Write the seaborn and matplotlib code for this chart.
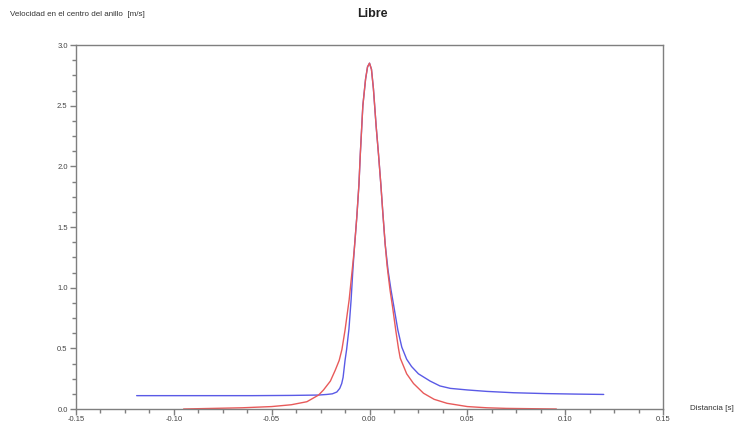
import matplotlib
matplotlib.use("Agg")
import matplotlib.pyplot as plt
from matplotlib.ticker import MultipleLocator, FormatStrFormatter
import seaborn as sns
import pandas as pd

# ---- data ----
red_x = [-0.095, -0.08, -0.065, -0.05, -0.04, -0.032, -0.026, -0.0235, -0.02, -0.0175,
         -0.0155, -0.0141, -0.0125, -0.0104, -0.009, -0.0078, -0.0065, -0.0054, -0.0047,
         -0.0034, -0.002, -0.001, 0.0, 0.001, 0.002, 0.0034, 0.0046, 0.0058, 0.0068, 0.008,
         0.009, 0.0105, 0.0118, 0.0135, 0.0148, 0.0157, 0.019, 0.0225, 0.0276, 0.033,
         0.0396, 0.05, 0.06, 0.07, 0.08, 0.0955]
red_v = [0.0, 0.005, 0.01, 0.02, 0.035, 0.06, 0.115, 0.157, 0.23, 0.32,
         0.40, 0.49, 0.65, 0.90, 1.12, 1.31, 1.58, 1.85, 2.10,
         2.50, 2.72, 2.82, 2.85, 2.80, 2.64, 2.33, 2.10, 1.85, 1.62, 1.36,
         1.18, 0.98, 0.84, 0.64, 0.50, 0.42, 0.29, 0.21, 0.13, 0.08,
         0.047, 0.02, 0.01, 0.005, 0.003, 0.0]

blue_x = [-0.119, -0.10, -0.08, -0.06, -0.04, -0.026, -0.0218, -0.019, -0.0167, -0.0152,
          -0.0142, -0.0135, -0.0125, -0.0117, -0.0105, -0.0094, -0.0086, -0.0078, -0.0065,
          -0.0054, -0.0047, -0.0034, -0.002, -0.001, 0.0, 0.001, 0.002, 0.0034, 0.0046,
          0.0058, 0.0068, 0.008, 0.0095, 0.011, 0.0125, 0.0145, 0.0165, 0.019, 0.0215,
          0.025, 0.031, 0.036, 0.0413, 0.05, 0.06, 0.0737, 0.09, 0.105, 0.1197]
blue_v = [0.11, 0.11, 0.11, 0.11, 0.112, 0.115, 0.12, 0.125, 0.14, 0.17,
          0.21, 0.26, 0.40, 0.49, 0.66, 0.90, 1.12, 1.31, 1.58,
          1.85, 2.10, 2.50, 2.72, 2.82, 2.85, 2.80, 2.64, 2.33, 2.10,
          1.85, 1.62, 1.36, 1.14, 0.98, 0.84, 0.65, 0.51, 0.41, 0.35,
          0.29, 0.23, 0.19, 0.17, 0.157, 0.145, 0.134, 0.127, 0.123, 0.12]

title = "Libre"
ylabel = "Velocidad en el centro del anillo  [m/s]"
xlabel = "Distancia [s]"

sns.set_style("white")
plt.rcParams["font.family"] = ["Liberation Sans", "DejaVu Sans"]

fig = plt.figure(figsize=(7.39, 4.24), dpi=100)
ax = fig.add_axes([76 / 739, 1 - 409 / 424, (663 - 76) / 739, (409 - 45) / 424])

df_blue = pd.DataFrame({"x": blue_x, "v": blue_v})
df_red = pd.DataFrame({"x": red_x, "v": red_v})
sns.lineplot(data=df_blue, x="x", y="v", ax=ax, color="#5a5ae6", linewidth=1.0,
             estimator=None, sort=False)
sns.lineplot(data=df_red, x="x", y="v", ax=ax, color="#e85a5a", linewidth=1.0,
             estimator=None, sort=False)

ax.set_xlim(-0.15, 0.15)
ax.set_ylim(0.0, 3.0)
ax.xaxis.set_major_locator(MultipleLocator(0.05))
ax.xaxis.set_minor_locator(MultipleLocator(0.0125))
ax.yaxis.set_major_locator(MultipleLocator(0.5))
ax.yaxis.set_minor_locator(MultipleLocator(0.125))
ax.xaxis.set_major_formatter(FormatStrFormatter("%.2f"))
ax.yaxis.set_major_formatter(FormatStrFormatter("%.1f"))

spine_col = "#7f7f7f"
for s in ax.spines.values():
    s.set_color(spine_col)
    s.set_linewidth(1.0)
ax.tick_params(which="major", direction="out", length=4, width=1, color=spine_col,
               labelsize=5.5, labelcolor="#444444", pad=2, bottom=True, left=True)
ax.tick_params(axis="x", which="major", pad=1)
ax.tick_params(which="minor", direction="out", length=3, width=1, color=spine_col,
               bottom=True, left=True)
ax.set_xlabel("")
ax.set_ylabel("")

fig.text(10 / 739, 1 - 15 / 424, ylabel, fontsize=5.8, color="#333333", va="center", ha="left")
fig.text(372 / 739, 1 - 14 / 424, title, fontsize=9, fontweight="bold", color="#222222",
         va="center", ha="center")
fig.text(690 / 739, 1 - 409 / 424, xlabel, fontsize=5.8, color="#333333", va="center", ha="left")

fig.savefig("out.png", dpi=100)
